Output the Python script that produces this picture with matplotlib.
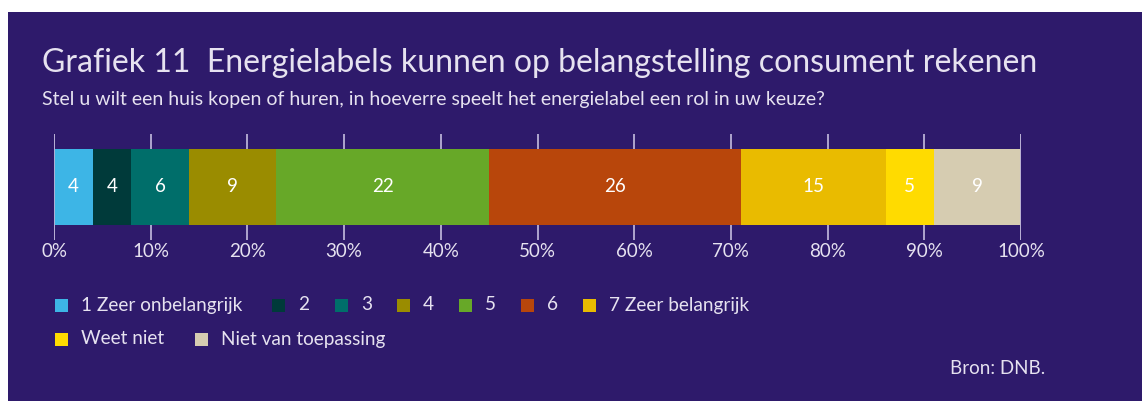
import matplotlib
matplotlib.use("Agg")
import matplotlib.pyplot as plt
from matplotlib.patches import Rectangle

plt.rcParams['font.family'] = ['Lato', 'DejaVu Sans']

categories = ["1 Zeer onbelangrijk", "2", "3", "4", "5", "6", "7 Zeer belangrijk",
              "Weet niet", "Niet van toepassing"]
values = [4, 4, 6, 9, 22, 26, 15, 5, 9]
colors = ["#3db5e6", "#003a3a", "#006e6a", "#9a8c00", "#67a828", "#b8460b",
          "#e9bb00", "#ffdb00", "#d6ccb1"]
ticks = [0, 10, 20, 30, 40, 50, 60, 70, 80, 90, 100]
tick_labels = [f"{t}%" for t in ticks]

title = "Grafiek 11  Energielabels kunnen op belangstelling consument rekenen"
subtitle = "Stel u wilt een huis kopen of huren, in hoeverre speelt het energielabel een rol in uw keuze?"
source = "Bron: DNB."

BG = "#2e1a6b"
TXT = "#e6e2f0"
GRID = "#b9b0d6"

W, H = 1142, 401
fig = plt.figure(figsize=(W / 100, H / 100), dpi=100)
fig.patch.set_facecolor("white")
fig.add_artist(Rectangle((8 / W, 0), 1 - 8 / W, 1 - 12 / H, transform=fig.transFigure,
                         facecolor=BG, edgecolor="none", zorder=0))

fig.text(42 / W, 1 - 63 / H, title, color=TXT, fontsize=23, va="center", ha="left")
fig.text(42 / W, 1 - 100 / H, subtitle, color=TXT, fontsize=14, va="center", ha="left")

ax = fig.add_axes([54 / W, 1 - 240 / H, 967 / W, 106 / H])
ax.set_facecolor("none")
ax.set_xlim(0, 100)
ax.set_ylim(-0.5, 0.5)
for t in ticks:
    ax.axvline(t, color=GRID, lw=1.3, zorder=1)
left = 0
for v, c in zip(values, colors):
    ax.barh(0, v, left=left, height=76 / 106, color=c, edgecolor="none", zorder=2)
    ax.text(left + v / 2, 0, str(v), color="white", fontsize=13.5, ha="center",
            va="center", zorder=3)
    left += v
ax.axvline(100, color=GRID, lw=1.3, zorder=4)
ax.axvline(0, color=GRID, lw=1.3, zorder=4)
ax.set_xticks(ticks)
ax.set_xticklabels(tick_labels, color=TXT, fontsize=13.5)
ax.set_yticks([])
ax.tick_params(axis="x", length=0, pad=2)
for s in ax.spines.values():
    s.set_visible(False)

# legend (manual layout)
legend_pos = [(55, 305), (272, 305), (335, 305), (397, 305), (459, 305), (521, 305),
              (583, 305), (55, 339), (195, 339)]
sq = 13
for (x, y), lab, c in zip(legend_pos, categories, colors):
    fig.add_artist(Rectangle((x / W, 1 - (y + sq / 2) / H), sq / W, sq / H,
                             transform=fig.transFigure, facecolor=c, edgecolor="none"))
    fig.text((x + sq + 13) / W, 1 - y / H, lab, color=TXT, fontsize=13.7,
             va="center", ha="left")

fig.text(1045 / W, 1 - 368 / H, source, color=TXT, fontsize=13.5, va="center", ha="right")

fig.savefig("out.png", dpi=100, facecolor=fig.get_facecolor())
